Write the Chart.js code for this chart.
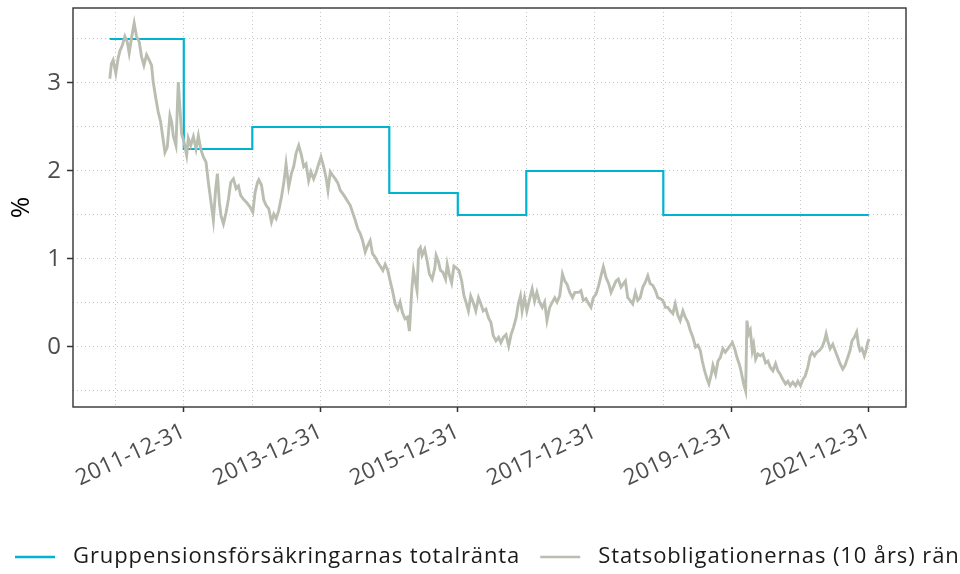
<!DOCTYPE html>
<html><head><meta charset="utf-8">
<script src="https://cdn.jsdelivr.net/npm/chart.js@4"></script>
<style>html,body{margin:0;padding:0;background:#fff;overflow:hidden}#wrap{width:960px;height:574px}</style>
</head><body><div id="wrap"><canvas id="c" width="960" height="574"></canvas></div>
<script>
const seriesNames = ['Gruppensionsförsäkringarnas totalränta', 'Statsobligationernas (10 års) ränta'];
const xTickLabels = ['2011-12-31','2013-12-31','2015-12-31','2017-12-31','2019-12-31','2021-12-31'];
const yTickValues = [0, 1, 2, 3];
const yAxisTitle = '%';

// Gruppensionsförsäkringarnas totalränta (step: value holds from date until next date)
const rateChangeDates = ['2010-12-01','2011-12-31','2012-12-31','2014-12-31','2015-12-31','2016-12-31','2018-12-31','2021-12-31'];
const totalRate = [3.5, 2.25, 2.5, 1.75, 1.5, 2.0, 1.5, 1.5];

// Statsobligationernas (10 års) ränta, time in decimal years
const bondT = [
2010.917,2010.941,2010.966,2011.005,2011.039,2011.063,2011.102,2011.137,2011.171,2011.200,2011.234,2011.273,2011.307,2011.346,2011.380,2011.415,2011.454,2011.493,2011.527,2011.551,2011.590,2011.624,2011.659,2011.688,2011.722,2011.756,2011.795,2011.820,2011.844,2011.883,2011.917,2011.941,2011.966,
2012.000,2012.039,2012.063,2012.098,2012.137,2012.176,2012.210,2012.244,2012.283,2012.322,2012.356,2012.395,2012.429,2012.463,2012.488,2012.517,2012.541,2012.576,2012.615,2012.649,2012.683,2012.722,2012.761,2012.795,2012.829,2012.868,2012.917,2012.966,
2013.005,2013.039,2013.073,2013.092,2013.131,2013.165,2013.199,2013.238,2013.277,2013.311,2013.345,2013.383,2013.422,2013.456,2013.490,2013.529,2013.568,2013.602,2013.636,2013.675,2013.714,2013.748,2013.782,2013.820,2013.854,2013.893,2013.932,2013.966,
2014.000,2014.039,2014.073,2014.102,2014.136,2014.170,2014.209,2014.248,2014.282,2014.320,2014.354,2014.393,2014.427,2014.461,2014.500,2014.539,2014.573,2014.607,2014.646,2014.680,2014.718,2014.752,2014.791,2014.830,2014.864,2014.903,2014.937,2014.976,
2015.010,2015.044,2015.083,2015.121,2015.155,2015.189,2015.228,2015.262,2015.291,2015.325,2015.350,2015.377,2015.402,2015.426,2015.451,2015.475,2015.515,2015.549,2015.583,2015.623,2015.662,2015.681,2015.711,2015.745,2015.779,2015.819,2015.843,2015.877,2015.907,2015.941,2015.975,
2016.015,2016.054,2016.088,2016.113,2016.152,2016.186,2016.221,2016.260,2016.299,2016.333,2016.368,2016.407,2016.446,2016.480,2016.515,2016.554,2016.593,2016.627,2016.662,2016.701,2016.740,2016.775,2016.809,2016.848,2016.882,2016.912,2016.936,2016.971,
2017.005,2017.044,2017.083,2017.118,2017.152,2017.191,2017.230,2017.265,2017.299,2017.338,2017.377,2017.412,2017.446,2017.485,2017.525,2017.559,2017.593,2017.632,2017.672,2017.706,2017.761,2017.795,2017.829,2017.868,2017.907,2017.941,2017.976,
2018.015,2018.054,2018.088,2018.122,2018.161,2018.200,2018.234,2018.268,2018.307,2018.341,2018.380,2018.415,2018.444,2018.478,2018.512,2018.551,2018.590,2018.624,2018.659,2018.698,2018.732,2018.771,2018.805,2018.844,2018.883,2018.917,2018.951,2018.990,
2019.029,2019.063,2019.098,2019.137,2019.171,2019.210,2019.244,2019.283,2019.317,2019.356,2019.390,2019.429,2019.468,2019.502,2019.537,2019.566,2019.600,2019.634,2019.663,2019.698,2019.722,2019.761,2019.795,2019.829,2019.868,2019.902,2019.941,2019.976,
2020.005,2020.039,2020.073,2020.112,2020.136,2020.170,2020.199,2020.218,2020.243,2020.267,2020.296,2020.316,2020.345,2020.379,2020.413,2020.451,2020.490,2020.524,2020.558,2020.597,2020.636,2020.670,2020.704,2020.743,2020.782,2020.816,2020.850,2020.888,2020.927,2020.961,
2021.000,2021.034,2021.068,2021.107,2021.141,2021.170,2021.204,2021.238,2021.277,2021.316,2021.350,2021.374,2021.398,2021.432,2021.471,2021.505,2021.544,2021.578,2021.617,2021.650,2021.689,2021.723,2021.752,2021.786,2021.820,2021.845,2021.869,2021.898,2021.932,2021.956,2021.981,2022.000
];
const bondRate = [
3.05,3.22,3.26,3.11,3.28,3.36,3.43,3.53,3.47,3.34,3.51,3.68,3.53,3.47,3.30,3.20,3.32,3.26,3.20,3.01,2.82,2.67,2.56,2.40,2.21,2.27,2.63,2.56,2.40,2.29,3.01,2.71,2.42,
2.33,2.18,2.37,2.29,2.39,2.25,2.40,2.25,2.16,2.10,1.87,1.64,1.44,1.80,1.97,1.64,1.49,1.40,1.53,1.68,1.87,1.91,1.80,1.83,1.72,1.68,1.64,1.59,
1.53,1.76,1.87,1.90,1.84,1.67,1.61,1.57,1.42,1.51,1.46,1.55,1.70,1.86,2.08,1.82,1.97,2.05,2.20,2.29,2.18,2.05,2.08,1.89,1.99,1.91,1.99,2.08,
2.16,2.05,1.93,1.78,1.99,1.95,1.91,1.86,1.78,1.74,1.70,1.65,1.61,1.53,1.44,1.34,1.29,1.21,1.08,1.15,1.21,1.06,1.02,0.96,0.92,0.87,0.94,0.87,
0.75,0.64,0.49,0.43,0.51,0.39,0.32,0.34,0.18,0.64,0.87,0.75,0.64,1.10,1.13,1.04,1.11,0.98,0.83,0.77,0.90,1.04,0.98,0.87,0.85,0.77,0.94,0.81,0.73,0.92,0.90,
0.87,0.75,0.58,0.52,0.41,0.58,0.51,0.41,0.56,0.49,0.41,0.43,0.33,0.28,0.13,0.07,0.11,0.05,0.11,0.14,0.01,0.14,0.22,0.33,0.49,0.58,0.41,0.56,
0.41,0.54,0.66,0.52,0.62,0.51,0.45,0.51,0.30,0.45,0.51,0.56,0.51,0.58,0.83,0.75,0.71,0.62,0.56,0.62,0.62,0.64,0.53,0.55,0.49,0.45,0.56,
0.60,0.70,0.81,0.91,0.79,0.72,0.62,0.68,0.75,0.77,0.68,0.72,0.75,0.56,0.53,0.49,0.62,0.53,0.56,0.68,0.73,0.81,0.72,0.70,0.64,0.56,0.55,0.53,
0.45,0.45,0.41,0.38,0.49,0.36,0.30,0.41,0.34,0.28,0.19,0.11,0.00,0.02,-0.04,-0.16,-0.27,-0.36,-0.42,-0.31,-0.21,-0.31,-0.16,-0.12,-0.02,-0.06,-0.02,0.02,
0.05,-0.02,-0.12,-0.21,-0.29,-0.42,-0.50,0.30,0.15,0.19,-0.04,0.03,-0.14,-0.08,-0.10,-0.08,-0.18,-0.16,-0.23,-0.27,-0.19,-0.27,-0.31,-0.37,-0.42,-0.39,-0.44,-0.40,-0.44,-0.39,
-0.44,-0.37,-0.33,-0.23,-0.10,-0.06,-0.10,-0.06,-0.04,0.00,0.07,0.15,0.07,-0.02,0.03,-0.04,-0.12,-0.19,-0.25,-0.21,-0.12,-0.04,0.07,0.11,0.17,0.03,-0.04,-0.02,-0.10,-0.04,0.05,0.09
];

function decYear(s){
  const [y,m,d] = s.split('-').map(Number);
  const a = Date.UTC(y,0,1), b = Date.UTC(y+1,0,1), t = Date.UTC(y,m-1,d);
  return y + (t-a)/(b-a);
}

const BLUE = '#00b4cf', GRAY = '#b9beb1';
const FONT = "'Open Sans', sans-serif";
const xTickPos = xTickLabels.map(decYear);
const xGrid = []; for (let y = 2010; y <= 2021; y++) xGrid.push(decYear(y + '-12-31'));
const yGrid = []; for (let v = -0.5; v <= 3.5; v += 0.5) yGrid.push(v);
const isXMajor = v => xTickPos.some(p => Math.abs(p - v) < 1e-6);
const isYMajor = v => yTickValues.some(p => Math.abs(p - v) < 1e-6);

const framePlugin = {
  id: 'frame',
  afterDatasetsDraw(chart) {
    const {ctx, chartArea: a} = chart;
    ctx.save();
    ctx.strokeStyle = '#333333'; ctx.lineWidth = 1.4;
    ctx.strokeRect(a.left, a.top, a.right - a.left, a.bottom - a.top);
    ctx.restore();
  }
};
const legendPlugin = {
  id: 'bottomLegend',
  afterDraw(chart) {
    const ctx = chart.ctx;
    ctx.save();
    ctx.font = '22px ' + FONT;
    if ('letterSpacing' in ctx) ctx.letterSpacing = '0.9px';
    ctx.textBaseline = 'middle';
    let x = 15; const y = 557;
    chart.data.datasets.forEach(ds => {
      ctx.strokeStyle = ds.borderColor; ctx.lineWidth = 2.4;
      ctx.beginPath(); ctx.moveTo(x, y); ctx.lineTo(x + 40, y); ctx.stroke();
      ctx.fillStyle = '#1a1a1a';
      ctx.fillText(ds.label, x + 58, y);
      x = x + 58 + ctx.measureText(ds.label).width + 20;
    });
    ctx.restore();
  }
};

new Chart(document.getElementById('c'), {
  type: 'line',
  data: { datasets: [
    { label: seriesNames[0], data: rateChangeDates.map((d,i) => ({x: decYear(d), y: totalRate[i]})),
      borderColor: BLUE, borderWidth: 2.2, stepped: true, pointRadius: 0, fill: false, order: 1 },
    { label: seriesNames[1], data: bondT.map((t,i) => ({x: t, y: bondRate[i]})),
      borderColor: GRAY, borderWidth: 2.9, pointRadius: 0, tension: 0, fill: false, order: 0 }
  ]},
  options: {
    responsive: false, animation: false,
    layout: { padding: { top: 8, right: 54, left: 0, bottom: 0 } },
    plugins: { legend: { display: false }, tooltip: { enabled: false } },
    scales: {
      x: {
        type: 'linear', min: 2010.38, max: 2022.54,
        afterBuildTicks: s => { s.ticks = xGrid.map(v => ({value: v})); },
        afterFit: s => { s.height = 167; s.paddingLeft = 0; s.paddingRight = 0; },
        grid: { color: '#c8c8c8', lineWidth: 1, tickLength: 5, tickWidth: 1.5,
          tickColor: c => isXMajor(c.tick.value) ? '#333333' : 'rgba(0,0,0,0)' },
        border: { display: false, dash: [1, 3] },
        ticks: { autoSkip: false, minRotation: 25, maxRotation: 25, padding: 6, color: '#4d4d4d',
          font: { family: FONT, size: 22.5 },
          callback: v => { const i = xTickPos.findIndex(p => Math.abs(p - v) < 1e-6); return i >= 0 ? xTickLabels[i] : ''; } }
      },
      y: {
        min: -0.682, max: 3.852,
        afterBuildTicks: s => { s.ticks = yGrid.map(v => ({value: v})); },
        afterFit: s => { s.width = 73; s.paddingTop = 0; s.paddingBottom = 0; },
        grid: { color: '#c8c8c8', lineWidth: 1, tickLength: 6, tickWidth: 1.5,
          tickColor: c => isYMajor(c.tick.value) ? '#333333' : 'rgba(0,0,0,0)' },
        border: { display: false, dash: [1, 3] },
        ticks: { padding: 6, color: '#4d4d4d', font: { family: FONT, size: 24 },
          callback: v => isYMajor(v) ? String(Math.round(v)) : '' },
        title: { display: true, text: yAxisTitle, color: '#000', font: { family: FONT, size: 26 }, padding: { top: 6, bottom: 0 } }
      }
    }
  },
  plugins: [framePlugin, legendPlugin]
});
</script></body></html>
